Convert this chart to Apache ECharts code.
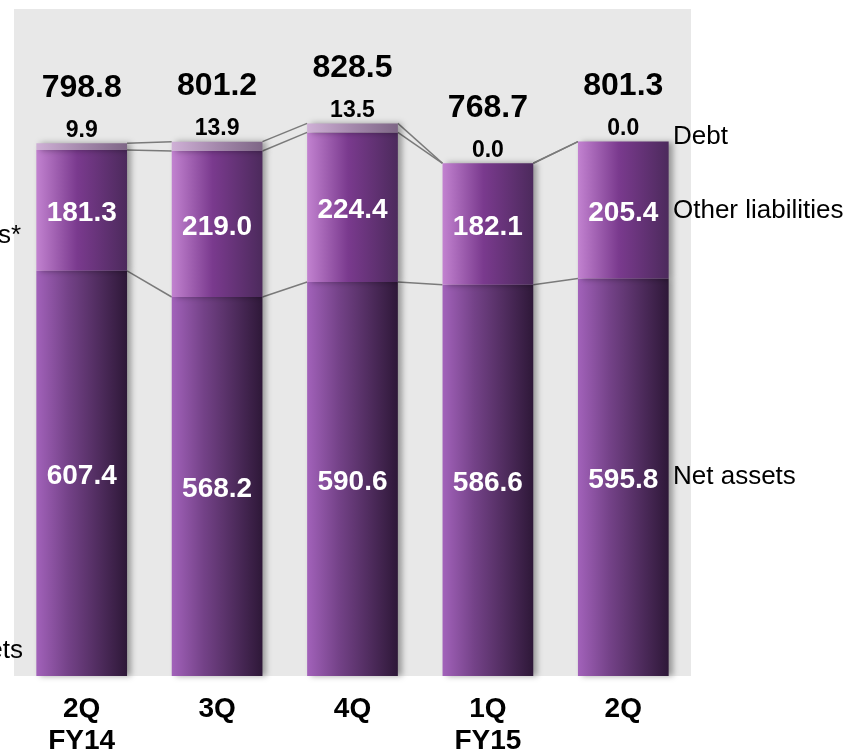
<!DOCTYPE html>
<html>
<head>
<meta charset="utf-8">
<script src="https://cdn.jsdelivr.net/npm/echarts@6/dist/echarts.min.js"></script>
<style>html,body{margin:0;padding:0;background:#fff;overflow:hidden}#c{width:852px;height:752px}</style>
</head>
<body>
<div id="c"></div>
<script>
var categories = ['2Q\nFY14', '3Q', '4Q', '1Q\nFY15', '2Q'];
var netAssets = [607.4, 568.2, 590.6, 586.6, 595.8];
var otherLiabilities = [181.3, 219.0, 224.4, 182.1, 205.4];
var debt = [9.9, 13.9, 13.5, 0.0, 0.0];
var totals = [798.8, 801.2, 828.5, 768.7, 801.3];

var FONT = "'Liberation Sans', Arial, sans-serif";
var BAR_FRAC = 0.67;

function hGrad(stops) {
  return { type: 'linear', x: 0, y: 0, x2: 1, y2: 0,
    colorStops: stops.map(function (s) { return { offset: s[0], color: s[1] }; }) };
}
var shadow = { shadowColor: 'rgba(0,0,0,0.35)', shadowBlur: 6, shadowOffsetX: 4, shadowOffsetY: 0 };

var chart = echarts.init(document.getElementById('c'));

var linkData = [];
for (var i = 0; i < categories.length - 1; i++) linkData.push([i, i + 1]);

chart.setOption({
  animation: false,
  textStyle: { fontFamily: FONT },
  grid: { left: 14, right: 161, top: 9, bottom: 76, show: true, backgroundColor: '#e8e8e8', borderWidth: 0,
    containLabel: false, outerBoundsMode: 'none' },
  xAxis: {
    type: 'category', data: categories,
    axisLine: { show: false }, axisTick: { show: false },
    axisLabel: { color: '#000', fontSize: 28, fontWeight: 'bold', fontFamily: FONT, margin: 17, lineHeight: 32 }
  },
  yAxis: { type: 'value', min: 0, max: 1000, show: false, splitLine: { show: false } },
  series: [
    {
      type: 'custom', z: 1, silent: true,
      data: linkData,
      renderItem: function (params, api) {
        var a = api.value(0), b = api.value(1);
        var half = api.size([1, 0])[0] * BAR_FRAC / 2;
        var levelsA = [netAssets[a], netAssets[a] + otherLiabilities[a], netAssets[a] + otherLiabilities[a] + debt[a]];
        var levelsB = [netAssets[b], netAssets[b] + otherLiabilities[b], netAssets[b] + otherLiabilities[b] + debt[b]];
        var children = [];
        for (var k = 0; k < 3; k++) {
          var p1 = api.coord([a, levelsA[k]]);
          var p2 = api.coord([b, levelsB[k]]);
          children.push({
            type: 'line',
            shape: { x1: p1[0] + half, y1: p1[1], x2: p2[0] - half, y2: p2[1] },
            style: { stroke: '#7a7a7a', lineWidth: 1.5 }
          });
        }
        return { type: 'group', children: children };
      }
    },
    {
      name: 'Net assets', type: 'bar', stack: 'bs', barWidth: (BAR_FRAC * 100) + '%', z: 3,
      data: netAssets,
      itemStyle: Object.assign({ color: hGrad([[0, '#a262ba'], [0.35, '#744288'], [1, '#2e1838']]) }, shadow),
      label: { show: true, position: 'inside', offset: [0, 3], color: '#fff', fontSize: 28, fontWeight: 'bold', fontFamily: FONT,
        formatter: function (p) { return p.value.toFixed(1); } }
    },
    {
      name: 'Other liabilities', type: 'bar', stack: 'bs', z: 3,
      data: otherLiabilities,
      itemStyle: Object.assign({ color: hGrad([[0, '#c282d0'], [0.45, '#7a3a8e'], [1, '#4c2a5c']]) }, shadow),
      label: { show: true, position: 'inside', offset: [0, 3], color: '#fff', fontSize: 28, fontWeight: 'bold', fontFamily: FONT,
        formatter: function (p) { return p.value.toFixed(1); } }
    },
    {
      name: 'Debt', type: 'bar', stack: 'bs', z: 3,
      data: debt,
      itemStyle: Object.assign({ color: hGrad([[0, '#cfb0d6'], [0.5, '#a488ac'], [1, '#7e6686']]) }, shadow),
      label: {
        show: true, position: 'top', distance: 2, fontFamily: FONT,
        formatter: function (p) {
          return '{t|' + totals[p.dataIndex].toFixed(1) + '}\n{d|' + p.value.toFixed(1) + '}';
        },
        rich: {
          t: { fontSize: 32, fontWeight: 'bold', color: '#000', lineHeight: 62, fontFamily: FONT },
          d: { fontSize: 23, fontWeight: 'bold', color: '#000', lineHeight: 22, fontFamily: FONT }
        }
      }
    }
  ],
  graphic: [
    { type: 'text', x: 673, y: 137, style: { text: 'Debt', fontSize: 26, fill: '#000', fontFamily: FONT, verticalAlign: 'middle' } },
    { type: 'text', x: 673, y: 211, style: { text: 'Other liabilities', fontSize: 26, fill: '#000', fontFamily: FONT, verticalAlign: 'middle' } },
    { type: 'text', x: 673, y: 477, style: { text: 'Net assets', fontSize: 26, fill: '#000', fontFamily: FONT, verticalAlign: 'middle' } },
    { type: 'text', x: 21, y: 236, style: { text: 'Total assets*', fontSize: 26, fill: '#000', fontFamily: FONT, align: 'right', verticalAlign: 'middle' } },
    { type: 'text', x: 23, y: 651, style: { text: 'Fixed assets', fontSize: 26, fill: '#000', fontFamily: FONT, align: 'right', verticalAlign: 'middle' } }
  ]
});
</script>
</body>
</html>
